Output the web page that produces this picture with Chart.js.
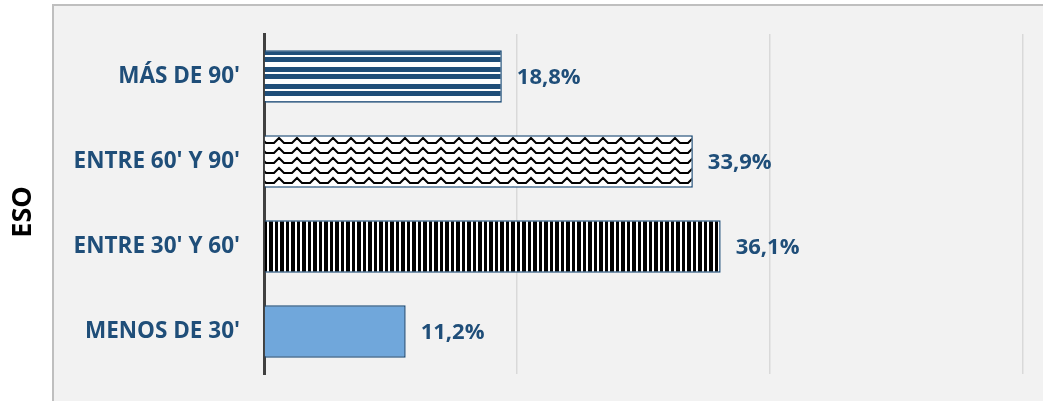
<!DOCTYPE html>
<html>
<head>
<meta charset="utf-8">
<script src="https://cdn.jsdelivr.net/npm/chart.js@4"></script>
<style>
  html, body { margin: 0; padding: 0; background: #ffffff; overflow: hidden; }
  #wrap { position: relative; width: 1043px; height: 401px; }
</style>
</head>
<body>
<div id="wrap"><canvas id="barChart"></canvas></div>
<script>
// data
const categories = ["MÁS DE 90'", "ENTRE 60' Y 90'", "ENTRE 30' Y 60'", "MENOS DE 30'"];
const values = [18.8, 33.9, 36.1, 11.2];
const axisTitle = 'ESO';
const xTicks = [0, 20, 40, 60];

const blue = '#1f4e79';

// pattern fills
function makePattern(w, h, draw, dy) {
    const c = document.createElement('canvas');
    c.width = w; c.height = h;
    const g = c.getContext('2d');
    g.fillStyle = '#ffffff';
    g.fillRect(0, 0, w, h);
    draw(g);
    const p = g.createPattern(c, 'repeat');
    if (dy) p.setTransform(new DOMMatrix().translate(0, dy));
    return p;
}

const stripesH = makePattern(17, 17, g => {
    g.fillStyle = blue;
    g.fillRect(0, 0, 17, 5);
    g.fillRect(0, 7, 17, 5);
}, 50);

const waves = makePattern(18, 10, g => {
    g.strokeStyle = '#000000';
    g.lineWidth = 2;
    g.beginPath();
    g.moveTo(0, 7); g.lineTo(4, 7); g.lineTo(9, 2); g.lineTo(14, 7); g.lineTo(18, 7);
    g.stroke();
}, 136);

const stripesV = makePattern(11, 10, g => {
    g.fillStyle = '#000000';
    g.fillRect(0, 0, 3, 10);
    g.fillRect(5, 0, 4, 10);
});

const fills = [stripesH, waves, stripesV, '#70a7db'];

const panelPlugin = {
    id: 'panel',
    beforeDraw(chart) {
        const ctx = chart.ctx;
        ctx.save();
        ctx.fillStyle = '#f2f2f2';
        ctx.fillRect(52, 4, 1100, 450);
        ctx.strokeStyle = '#bfbfbf';
        ctx.lineWidth = 2;
        ctx.strokeRect(53, 5, 1100, 450);
        ctx.restore();
    }
};

// rotated axis title, sits left of the panel
const titlePlugin = {
    id: 'axisTitle',
    afterDraw(chart) {
        const ctx = chart.ctx;
        ctx.save();
        ctx.translate(23, 212);
        ctx.rotate(-Math.PI / 2);
        ctx.font = 'bold 27px "Open Sans"';
        ctx.fillStyle = '#000000';
        ctx.textAlign = 'center';
        ctx.textBaseline = 'middle';
        ctx.fillText(axisTitle, 0, 0);
        ctx.restore();
    }
};

const valueLabels = {
    id: 'valueLabels',
    afterDatasetsDraw(chart) {
        const ctx = chart.ctx;
        const meta = chart.getDatasetMeta(0);
        ctx.save();
        ctx.font = 'bold 22px "Open Sans"';
        ctx.fillStyle = blue;
        ctx.textBaseline = 'middle';
        ctx.textAlign = 'left';
        meta.data.forEach((bar, i) => {
            const txt = values[i].toFixed(1).replace('.', ',') + '%';
            ctx.fillText(txt, bar.x + 15, bar.y + 1);
        });
        ctx.restore();
    }
};

new Chart(document.getElementById('barChart').getContext('2d'), {
    type: 'bar',
    data: {
        labels: categories,
        datasets: [{
            data: values,
            backgroundColor: fills,
            borderColor: blue,
            borderWidth: 1.5,
            categoryPercentage: 1,
            barPercentage: 0.615
        }]
    },
    options: {
        indexAxis: 'y',
        responsive: true,
        maintainAspectRatio: false,
        animation: false,
        layout: { padding: { top: 34, bottom: 27, right: 20, left: 0 } },
        plugins: {
            legend: { display: false },
            tooltip: { enabled: false }
        },
        scales: {
            x: {
                min: 0,
                max: 60,
                afterBuildTicks(scale) { scale.ticks = xTicks.map(v => ({ value: v })); },
                afterFit(scale) { scale.height = 0; scale.paddingLeft = 0; scale.paddingRight = 0; },
                ticks: { display: false },
                grid: { color: '#d9d9d9', lineWidth: 1.5, drawTicks: false },
                border: { display: false }
            },
            y: {
                afterFit(scale) { scale.width = 264; scale.paddingTop = 0; scale.paddingBottom = 0; },
                ticks: {
                    color: blue,
                    font: { family: 'Open Sans', size: 22.5, weight: 'bold' },
                    padding: 24
                },
                grid: { display: false, drawTicks: false },
                border: { color: '#404040', width: 3 }
            }
        }
    },
    plugins: [panelPlugin, valueLabels, titlePlugin]
});
</script>
</body>
</html>
